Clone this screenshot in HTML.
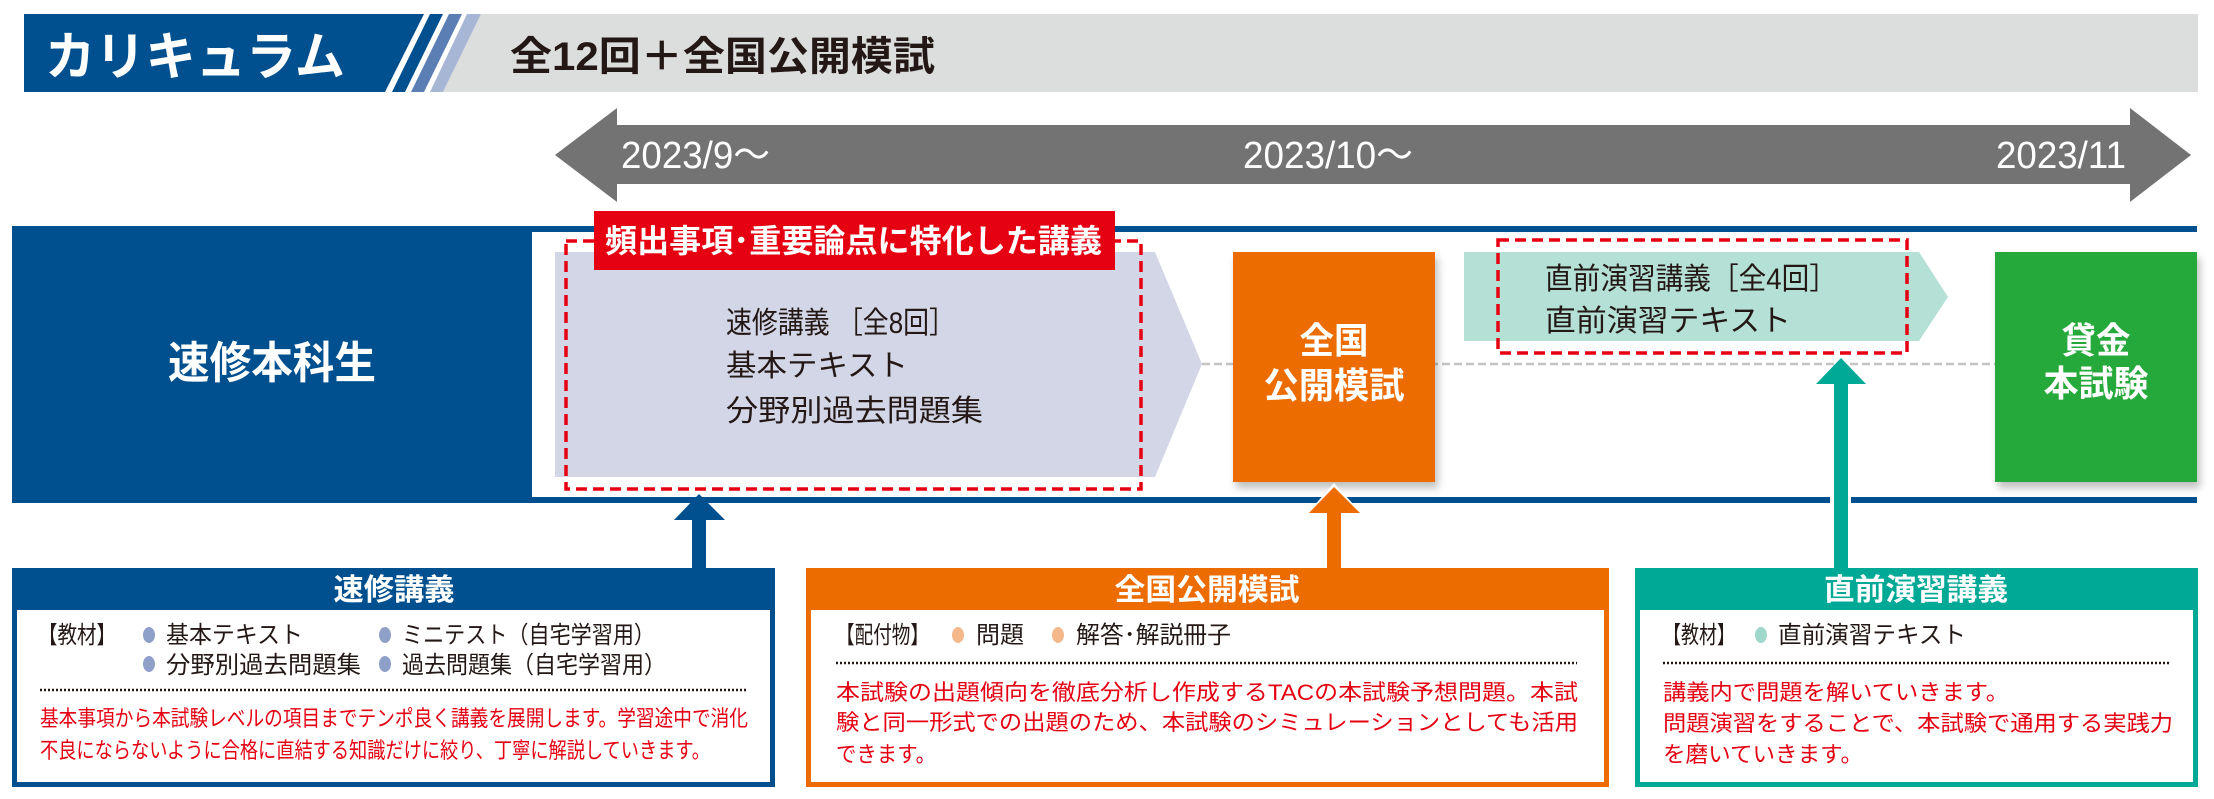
<!DOCTYPE html>
<html><head><meta charset="utf-8"><style>html,body{margin:0;padding:0;background:#fff}svg{display:block}</style></head><body>
<svg width="2214" height="799" viewBox="0 0 2214 799" xmlns="http://www.w3.org/2000/svg" font-family="'Liberation Sans','Noto Sans CJK JP',sans-serif">
<defs>
<filter id="sh" x="-10%" y="-10%" width="130%" height="130%"><feDropShadow dx="3" dy="6" stdDeviation="4" flood-color="#000" flood-opacity="0.25"/></filter>
</defs>
<!-- header -->
<polygon points="481,14 2198,14 2198,92 443,92" fill="#dcdedd"/>
<polygon points="24,14 424,14 385,92 24,92" fill="#00508f"/>
<polygon points="430,14 443,14 405,92 392,92" fill="#00508f"/>
<polygon points="449,14 462,14 424,92 411,92" fill="#5b7fb5"/>
<polygon points="467,14 481,14 443,92 430,92" fill="#a8b6d6"/>
<text x="45" y="75" font-size="52" font-weight="bold" fill="#fff" textLength="300" lengthAdjust="spacingAndGlyphs">カリキュラム</text>
<text x="510" y="70" font-size="40" font-weight="bold" fill="#231815" textLength="425" lengthAdjust="spacingAndGlyphs">全12回＋全国公開模試</text>
<!-- timeline arrow -->
<polygon points="555,155 617,108 617,125 2130,125 2130,108 2191,155 2130,202 2130,184 617,184 617,202" fill="#737373"/>
<g font-family="'Liberation Sans Narrow','Liberation Sans','Noto Sans CJK JP',sans-serif" font-size="38" fill="#fff">
<text x="621" y="168" textLength="149" lengthAdjust="spacingAndGlyphs">2023/9〜</text>
<text x="1243" y="168" textLength="170" lengthAdjust="spacingAndGlyphs">2023/10〜</text>
<text x="1996" y="168" textLength="130" lengthAdjust="spacingAndGlyphs">2023/11</text>
</g>
<!-- main band -->
<rect x="12" y="226" width="520" height="277" fill="#00508f"/>
<rect x="532" y="226" width="1665" height="6" fill="#00508f"/>
<rect x="532" y="497" width="1298" height="6" fill="#00508f"/>
<rect x="1851" y="497" width="346" height="6" fill="#00508f"/>
<text x="168" y="378" font-size="44" font-weight="bold" fill="#fff" textLength="208" lengthAdjust="spacingAndGlyphs">速修本科生</text>
<line x1="1202" y1="364" x2="1995" y2="364" stroke="#c4c4c4" stroke-width="2.5" stroke-dasharray="8,4"/>
<polygon points="555,252 1155,252 1202,364 1155,477 555,477" fill="#d3d6e6"/>
<rect x="566" y="241" width="575" height="248" fill="none" stroke="#e50012" stroke-width="3.5" stroke-dasharray="11,6"/>
<rect x="594" y="211" width="521" height="59" fill="#e50012"/>
<text x="605" y="252" font-size="32" font-weight="bold" fill="#fff" textLength="497" lengthAdjust="spacingAndGlyphs">頻出事項･重要論点に特化した講義</text>
<g font-size="30" fill="#231815">
<text x="726" y="333" textLength="229" lengthAdjust="spacingAndGlyphs">速修講義 ［全8回］</text>
<text x="726" y="376" textLength="182" lengthAdjust="spacingAndGlyphs">基本テキスト</text>
<text x="726" y="421" textLength="257" lengthAdjust="spacingAndGlyphs">分野別過去問題集</text>
</g>
<rect x="1233" y="252" width="202" height="230" fill="#ec6c00" filter="url(#sh)"/>
<g font-size="36" font-weight="bold" fill="#fff" text-anchor="middle">
<text x="1334" y="353" textLength="69" lengthAdjust="spacingAndGlyphs">全国</text>
<text x="1334" y="398" textLength="141" lengthAdjust="spacingAndGlyphs">公開模試</text>
</g>
<polygon points="1464,252 1919,252 1948,297 1919,341 1464,341" fill="#b5e0d6"/>
<rect x="1498" y="240" width="409" height="113" fill="none" stroke="#e50012" stroke-width="3.5" stroke-dasharray="11,6"/>
<g font-size="30" fill="#231815">
<text x="1545" y="289" textLength="292" lengthAdjust="spacingAndGlyphs">直前演習講義［全4回］</text>
<text x="1545" y="331" textLength="246" lengthAdjust="spacingAndGlyphs">直前演習テキスト</text>
</g>
<rect x="1995" y="252" width="202" height="230" fill="#25a93b" filter="url(#sh)"/>
<g font-size="36" font-weight="bold" fill="#fff" text-anchor="middle">
<text x="2096" y="353" textLength="69" lengthAdjust="spacingAndGlyphs">貸金</text>
<text x="2096" y="396" textLength="105" lengthAdjust="spacingAndGlyphs">本試験</text>
</g>
<!-- arrows -->
<rect x="692" y="518" width="14" height="52" fill="#00508f"/>
<polygon points="699,494 725,520 674,520" fill="#00508f"/>
<polygon points="1334,483 1364,516 1305,516" fill="#fff"/>
<rect x="1327" y="511" width="14" height="59" fill="#ec6c00"/>
<polygon points="1334,487 1360,513 1309,513" fill="#ec6c00"/>
<rect x="1834" y="382" width="14" height="188" fill="#00a896"/>
<polygon points="1841,358 1866,384 1816,384" fill="#00a896"/>
<!-- bottom boxes -->
<rect x="14.5" y="570.5" width="758" height="214" fill="#fff" stroke="#00508f" stroke-width="5"/>
<rect x="12" y="568" width="763" height="42" fill="#00508f"/>
<rect x="808.5" y="570.5" width="798" height="214" fill="#fff" stroke="#ec6c00" stroke-width="5"/>
<rect x="806" y="568" width="803" height="42" fill="#ec6c00"/>
<rect x="1637.5" y="570.5" width="558" height="214" fill="#fff" stroke="#00a896" stroke-width="5"/>
<rect x="1635" y="568" width="563" height="42" fill="#00a896"/>
<g font-size="30" font-weight="bold" fill="#fff" text-anchor="middle">
<text x="394" y="600" textLength="121" lengthAdjust="spacingAndGlyphs">速修講義</text>
<text x="1207" y="600" textLength="185" lengthAdjust="spacingAndGlyphs">全国公開模試</text>
<text x="1916" y="600" textLength="184" lengthAdjust="spacingAndGlyphs">直前演習講義</text>
</g>
<g font-size="24" fill="#231815">
<text x="38" y="643" textLength="78" lengthAdjust="spacingAndGlyphs">【教材】</text>
<text x="166" y="643" textLength="137" lengthAdjust="spacingAndGlyphs">基本テキスト</text>
<text x="402" y="643" textLength="253" lengthAdjust="spacingAndGlyphs">ミニテスト（自宅学習用）</text>
<text x="166" y="673" textLength="195" lengthAdjust="spacingAndGlyphs">分野別過去問題集</text>
<text x="402" y="673" textLength="264" lengthAdjust="spacingAndGlyphs">過去問題集（自宅学習用）</text>
<text x="836" y="643" textLength="93" lengthAdjust="spacingAndGlyphs">【配付物】</text>
<text x="976" y="643" textLength="48" lengthAdjust="spacingAndGlyphs">問題</text>
<text x="1076" y="643" textLength="155" lengthAdjust="spacingAndGlyphs">解答･解説冊子</text>
<text x="1663" y="643" textLength="72" lengthAdjust="spacingAndGlyphs">【教材】</text>
<text x="1778" y="643" textLength="188" lengthAdjust="spacingAndGlyphs">直前演習テキスト</text>
</g>
<g fill="#8fa0c8"><ellipse cx="149" cy="635" rx="6" ry="8"/><ellipse cx="385" cy="635" rx="6" ry="8"/><ellipse cx="149" cy="664" rx="6" ry="8"/><ellipse cx="385" cy="664" rx="6" ry="8"/></g>
<g fill="#f5b88a"><ellipse cx="958" cy="635" rx="6" ry="8"/><ellipse cx="1058" cy="635" rx="6" ry="8"/></g>
<ellipse cx="1761" cy="635" rx="6" ry="8" fill="#9fd7cb"/>
<g stroke="#231815" stroke-width="2.5" stroke-dasharray="2,2">
<line x1="40" y1="690" x2="748" y2="690"/>
<line x1="836" y1="663" x2="1577" y2="663"/>
<line x1="1663" y1="663" x2="2170" y2="663"/>
</g>
<g font-size="22" fill="#e50012">
<text x="40" y="726" textLength="708" lengthAdjust="spacingAndGlyphs">基本事項から本試験レベルの項目までテンポ良く講義を展開します。学習途中で消化</text>
<text x="40" y="758" textLength="670" lengthAdjust="spacingAndGlyphs">不良にならないように合格に直結する知識だけに絞り、丁寧に解説していきます。</text>
<text x="836" y="700" textLength="742" lengthAdjust="spacingAndGlyphs">本試験の出題傾向を徹底分析し作成するTACの本試験予想問題。本試</text>
<text x="836" y="730" textLength="742" lengthAdjust="spacingAndGlyphs">験と同一形式での出題のため、本試験のシミュレーションとしても活用</text>
<text x="836" y="762" textLength="100" lengthAdjust="spacingAndGlyphs">できます。</text>
<text x="1663" y="700" textLength="346" lengthAdjust="spacingAndGlyphs">講義内で問題を解いていきます。</text>
<text x="1663" y="731" textLength="510" lengthAdjust="spacingAndGlyphs">問題演習をすることで、本試験で通用する実践力</text>
<text x="1663" y="762" textLength="200" lengthAdjust="spacingAndGlyphs">を磨いていきます。</text>
</g>
</svg>
</body></html>
